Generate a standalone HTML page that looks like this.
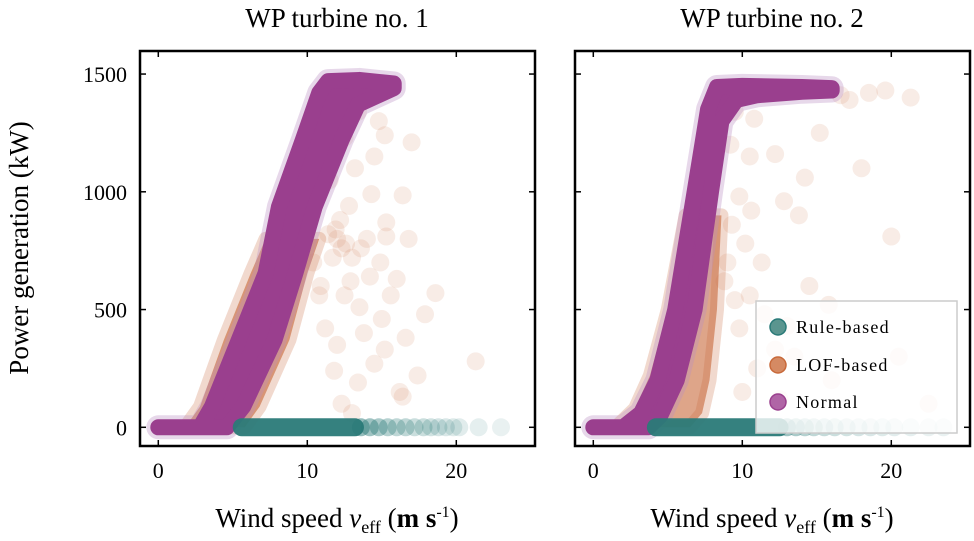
<!DOCTYPE html>
<html><head><meta charset="utf-8">
<style>
html,body{margin:0;padding:0;background:#fff;}
svg{display:block;font-family:"Liberation Serif",serif;}
</style></head>
<body>
<svg id="chart" width="974" height="541" viewBox="0 0 974 541" xmlns="http://www.w3.org/2000/svg">
<defs>
<clipPath id="clip1"><rect x="140" y="51" width="395" height="395"/></clipPath>
<clipPath id="clip2"><rect x="575" y="51" width="395" height="395"/></clipPath>
</defs>
<text x="337" y="27" font-size="27" text-anchor="middle">WP turbine no. 1</text>
<text x="772" y="27" font-size="27" text-anchor="middle">WP turbine no. 2</text>
<text transform="translate(28,248) rotate(-90)" font-size="27" text-anchor="middle">Power generation (kW)</text>
<g id="p1"></g>
<g id="p2"></g>
<g id="legend">
<rect x="756" y="301" width="201" height="132" fill="#fff" fill-opacity="0.8" stroke="#ccc" stroke-width="1.5"/>
<circle cx="778" cy="327" r="8" fill="#5a958f" stroke="#2a7a78" stroke-width="1.5"/>
<text x="796" y="333" font-size="18" letter-spacing="1.3">Rule-based</text>
<circle cx="778" cy="365" r="8" fill="#d58a63" stroke="#c8693a" stroke-width="1.5"/>
<text x="796" y="371" font-size="18" letter-spacing="1.3">LOF-based</text>
<circle cx="778" cy="402" r="8" fill="#b065a6" stroke="#9a3f8e" stroke-width="1.5"/>
<text x="796" y="408" font-size="18" letter-spacing="1.3">Normal</text>
</g>
</svg>
<script>
// ---- data: turbine 1 ----
const t1NormLeftWs = [0, 2.8, 3.6, 5.4, 7.2, 8.1, 9.7, 10.8, 11.4, 13.5, 15.8];
const t1NormLeftKw = [0, 0, 88, 371, 654, 937, 1220, 1420, 1470, 1475, 1460];
const t1NormRightWs = [15.8, 13.4, 12.3, 10.5, 9.2, 7.8, 5.7, 4.6];
const t1NormRightKw = [1440, 1370, 1220, 937, 654, 371, 88, 0];
const t1LofLeftWs = [1.8, 2.8, 4.4, 6.2, 7.2];
const t1LofLeftKw = [0, 88, 371, 654, 800];
const t1LofRightWs = [10.8, 10.0, 8.8, 6.8, 5.8];
const t1LofRightKw = [800, 654, 371, 88, 0];
const t1LofWs = [16.4,15.3,14.5,14.8,12.5,13.2,12.8,14.0,15.3,16.8,18.6,16.0,14.2,13.5,12.5,15.0,16.6,17.4,13.4,15.2,12.0,11.2,13.8,14.5,11.8,21.3,16.4,12.3,10.4,11.7,13.0,12.2,11.5,14.3,13.4,15.2,17.0,12.0,12.6,11.9,13.6,14.9,10.9,12.9,15.6,17.9,16.2,13.0,11.4,12.3,10.8];
const t1LofKw = [985,810,1150,1300,1230,1100,940,800,870,800,570,630,640,510,560,460,380,220,190,330,350,420,400,270,240,280,130,100,700,720,720,880,1050,990,1340,1240,1210,800,780,840,760,700,600,620,560,480,150,60,820,760,560];
const t1TealBand = [5.6, 13.2];
const t1TealWs = [13.6,14.2,14.8,15.4,16.0,16.6,17.2,17.8,18.3,18.8,19.3,19.8,20.2,21.5,23.0];
const t1TealAlpha = [0.5,0.45,0.4,0.35,0.3,0.3,0.25,0.25,0.22,0.2,0.18,0.16,0.14,0.12,0.1];
// ---- data: turbine 2 ----
const t2NormLeftWs = [0, 2.0, 3.2, 4.3, 5.5, 6.8, 7.7, 8.3, 10.0, 14.0, 16.0];
const t2NormLeftKw = [0, 0, 60, 200, 500, 1000, 1350, 1445, 1450, 1445, 1440];
const t2NormRightWs = [16.0, 14.0, 11.0, 9.6, 8.6, 7.9, 6.8, 5.6, 4.5, 3.7];
const t2NormRightKw = [1430, 1425, 1410, 1390, 1300, 1000, 500, 200, 50, 0];
const t2LofLeftWs = [1.5, 2.8, 3.8, 5.0, 6.2];
const t2LofLeftKw = [0, 80, 220, 500, 900];
const t2LofRightWs = [8.6, 8.3, 7.8, 7.3, 6.5];
const t2LofRightKw = [900, 500, 200, 60, 0];
const t2LofWs = [9.5,10.8,9.2,10.5,12.2,15.2,16.6,18.5,21.3,19.6,17.2,9.8,10.6,12.8,13.8,10.2,9.0,11.3,20.0,9.5,10.5,11.5,13.0,9.8,12.2,14.5,15.8,11.0,13.5,10.0,12.5,16.0,8.8,9.3,14.2,18.0,20.5,22.5];
const t2LofKw = [1340,1310,1200,1150,1160,1250,1410,1420,1400,1430,1390,980,920,960,900,780,700,700,810,540,560,480,430,420,330,600,520,250,300,150,120,200,620,860,1060,1100,300,100];
const t2TealBand = [4.2, 12.5];
const t2TealWs = [13.0,13.6,14.2,14.8,15.5,16.2,17.0,17.8,18.6,19.4,20.2,21.3,22.5,23.5];
const t2TealAlpha = [0.45,0.4,0.35,0.3,0.28,0.25,0.22,0.2,0.18,0.16,0.14,0.12,0.1,0.1];

const NS = "http://www.w3.org/2000/svg";
function mk(tag, attrs, parent){const e=document.createElementNS(NS,tag);for(const k in attrs)e.setAttribute(k,attrs[k]);parent.appendChild(e);return e;}

function drawPanel(g, x0, clipId, d){
  const sx = ws => x0 + 18.3 + 14.9*ws;
  const sy = kw => 427.3 - 0.2355*kw;
  const left = x0, right = x0+395, top = 51, bottom = 446;
  const plot = mk('g',{'clip-path':'url(#'+clipId+')'},g);
  
  
  const poly = (lw,lk,rw,rk)=>lw.map((w,i)=>sx(w)+','+sy(lk[i])).concat(rw.map((w,i)=>sx(w)+','+sy(rk[i]))).join(' ');
  d.lofWs.forEach((w,i)=>{
    const c = mk('circle',{cx:sx(w),cy:sy(d.lofKw[i]),r:9,fill:'#c8693a','fill-opacity':0.13},plot);
    
    
  });
  const lb = mk('polygon',{points:poly(d.lofLW,d.lofLK,d.lofRW,d.lofRK),fill:'#c8693a','fill-opacity':0.6,stroke:'#c8693a','stroke-opacity':0.25,'stroke-width':14,'stroke-linejoin':'round'},plot);
  
  
  const halo = mk('polygon',{points:poly(d.nLW,d.nLK,d.nRW,d.nRK),fill:'none',stroke:'#b98fc4','stroke-opacity':0.35,'stroke-width':24,'stroke-linejoin':'round'},plot);
  
  
  const nb = mk('polygon',{points:poly(d.nLW,d.nLK,d.nRW,d.nRK),fill:'#9a3f8e',stroke:'#9a3f8e','stroke-width':16,'stroke-linejoin':'round'},plot);
  
  
  const tb = mk('line',{x1:sx(d.tealBand[0]),y1:sy(0),x2:sx(d.tealBand[1]),y2:sy(0),stroke:'#2a7a78','stroke-width':18,'stroke-linecap':'round','stroke-opacity':0.95},plot);
  
  
  d.tealWs.forEach((w,i)=>{
    const c = mk('circle',{cx:sx(w),cy:sy(0),r:9,fill:'#2a7a78','fill-opacity':d.tealAlpha[i]},plot);
    
    
  });
  const fr = mk('rect',{x:left,y:top,width:395,height:395,fill:'none',stroke:'#000','stroke-width':2.5},g);
  
  
  [0,10,20].forEach(v=>{
    const x=sx(v);
    mk('line',{x1:x,y1:bottom,x2:x,y2:bottom-6,stroke:'#000','stroke-width':1.5},g);
    mk('line',{x1:x,y1:top,x2:x,y2:top+6,stroke:'#000','stroke-width':1.5},g);
    const t = mk('text',{x:x,y:478,'font-size':22,'text-anchor':'middle'},g);
    t.textContent=v;
    
    
  });
  [0,500,1000,1500].forEach(v=>{
    const y=sy(v);
    mk('line',{x1:left,y1:y,x2:left+6,y2:y,stroke:'#000','stroke-width':1.5},g);
    mk('line',{x1:right,y1:y,x2:right-6,y2:y,stroke:'#000','stroke-width':1.5},g);
    if(d.yLabels){
      const t = mk('text',{x:left-13,y:y+8,'font-size':22,'text-anchor':'end'},g);
      t.textContent=v;
      
      
    }
  });
  const xl = mk('text',{x:x0+197,y:527,'font-size':27,'text-anchor':'middle'},g);
  
  
  xl.innerHTML = 'Wind speed <tspan font-style="italic">v</tspan><tspan font-size="18" dy="6">eff</tspan><tspan dy="-6"> (</tspan><tspan font-weight="bold">m s</tspan><tspan font-size="16" dy="-10">-1</tspan><tspan dy="10">)</tspan>';
}
drawPanel(document.getElementById('p1'),140,'clip1',{nLW:t1NormLeftWs,nLK:t1NormLeftKw,nRW:t1NormRightWs,nRK:t1NormRightKw,lofLW:t1LofLeftWs,lofLK:t1LofLeftKw,lofRW:t1LofRightWs,lofRK:t1LofRightKw,lofWs:t1LofWs,lofKw:t1LofKw,tealBand:t1TealBand,tealWs:t1TealWs,tealAlpha:t1TealAlpha,yLabels:true});
drawPanel(document.getElementById('p2'),575,'clip2',{nLW:t2NormLeftWs,nLK:t2NormLeftKw,nRW:t2NormRightWs,nRK:t2NormRightKw,lofLW:t2LofLeftWs,lofLK:t2LofLeftKw,lofRW:t2LofRightWs,lofRK:t2LofRightKw,lofWs:t2LofWs,lofKw:t2LofKw,tealBand:t2TealBand,tealWs:t2TealWs,tealAlpha:t2TealAlpha,yLabels:false});
document.getElementById('chart').appendChild(document.getElementById('legend'));
</script>
</body></html>
